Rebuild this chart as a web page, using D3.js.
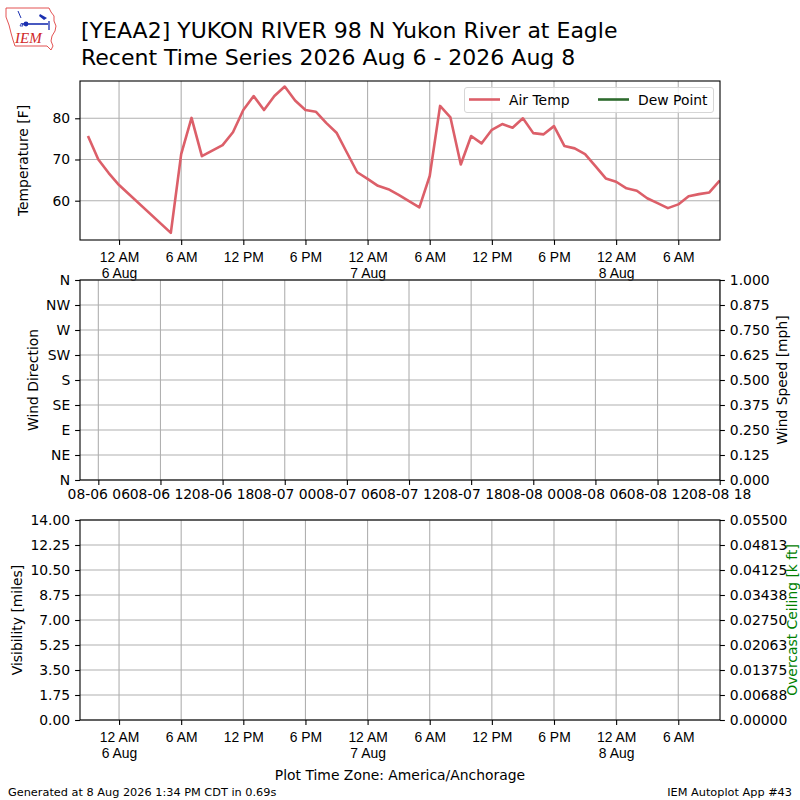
<!DOCTYPE html>
<html>
<head>
<meta charset="utf-8">
<script src="https://cdn.jsdelivr.net/npm/d3@7"></script>
<style>
  html, body { margin: 0; padding: 0; background: #fff; }
  svg { display: block; font-family: "DejaVu Sans", sans-serif; }
</style>
</head>
<body>
<svg id="chart" width="800" height="800"></svg>
<script>
// ---------------- DATA ----------------
const titleLines = ["[YEAA2] YUKON RIVER 98 N Yukon River at Eagle",
                    "Recent Time Series 2026 Aug 6 - 2026 Aug 8"];
// hours after 2026-08-06 00:00 local (America/Anchorage, UTC-8)
const obsHours = [-3, -2, -1, 0, 5, 6, 7, 8, 10, 11, 12, 13, 14, 15, 16, 17, 18, 19, 20, 21, 22, 23,
                  24, 25, 26, 27, 29, 30, 31, 32, 33, 34, 35, 36, 37, 38, 39, 40, 41, 42, 43, 44, 45,
                  46, 47, 48, 49, 50, 51, 52, 53, 54, 55, 56, 57, 58];
const airTemp = [75.7, 70.0, 66.7, 63.8, 52.2, 71.3, 80.1, 70.8, 73.5, 76.6, 82.0, 85.4, 82.0, 85.4,
                 87.7, 84.3, 82.0, 81.6, 78.9, 76.5, 71.7, 66.9, 65.3, 63.6, 62.8, 61.4, 58.4, 66.0,
                 83.0, 80.2, 68.8, 75.7, 73.9, 77.2, 78.6, 77.7, 80.0, 76.4, 76.1, 78.1, 73.3, 72.7,
                 71.3, 68.4, 65.4, 64.6, 63.0, 62.4, 60.6, 59.4, 58.2, 59.1, 61.1, 61.6, 62.0, 64.9];
const dewPoint = [];  // no dew point observations
const legendLabels = ["Air Temp", "Dew Point"];
const tempTicks = [60, 70, 80];
const dirTickLabels = ["N", "NE", "E", "SE", "S", "SW", "W", "NW", "N"];
const speedTickLabels = ["0.000", "0.125", "0.250", "0.375", "0.500", "0.625", "0.750", "0.875", "1.000"];
const visTickLabels = ["0.00", "1.75", "3.50", "5.25", "7.00", "8.75", "10.50", "12.25", "14.00"];
const ceilTickLabels = ["0.00000", "0.00688", "0.01375", "0.02063", "0.02750", "0.03438", "0.04125", "0.04813", "0.05500"];
const monthNames = ["Jan","Feb","Mar","Apr","May","Jun","Jul","Aug","Sep","Oct","Nov","Dec"];
const axisStartHour = -3.77, axisEndHour = 58.03;
const tzOffsetHours = 8;
const footerLeft = "Generated at 8 Aug 2026 1:34 PM CDT in 0.69s";
const footerRight = "IEM Autoplot App #43";
const tzLabel = "Plot Time Zone: America/Anchorage";

// ---------------- SETUP ----------------
const svg = d3.select("#chart");
const FS = 13.9;
const gridColor = "#b0b0b0";
const tempColor = "#dc5f69";
const dewColor = "#2e6b2e";
const base = Date.UTC(2026, 7, 6, 0, 0);
const hourToDate = h => new Date(base + h * 3600e3);

const L = 80, R = 720;
const panels = {
  temp: {top: 81, bottom: 240},
  wind: {top: 280, bottom: 480},
  vis:  {top: 520, bottom: 720}
};

// local-time scale (dates are "local clock" encoded as UTC)
const x = d3.scaleUtc().domain([hourToDate(axisStartHour), hourToDate(axisEndHour)]).range([L, R]);
// true UTC scale for the wind panel
const xUtc = d3.scaleUtc().domain([hourToDate(axisStartHour + tzOffsetHours), hourToDate(axisEndHour + tzOffsetHours)]).range([L, R]);

const localTicks = x.ticks(d3.utcHour.every(6));
function localLabel(d) {
  const h = d.getUTCHours();
  if (h === 0) return ["12 AM", d.getUTCDate() + " " + monthNames[d.getUTCMonth()]];
  if (h < 12) return [h + " AM"];
  if (h === 12) return ["12 PM"];
  return [(h - 12) + " PM"];
}

function styleAxis(g) {
  g.selectAll(".domain").remove();
  g.selectAll(".tick line").attr("stroke", "#000").attr("stroke-width", 1.1);
  g.selectAll(".tick text").attr("font-size", FS).attr("fill", "#000").attr("font-family", "DejaVu Sans");
}

function frame(p) {
  svg.append("rect").attr("x", L).attr("y", p.top).attr("width", R - L).attr("height", p.bottom - p.top)
    .attr("fill", "none").attr("stroke", "#000").attr("stroke-width", 1.1);
}

function vGrid(p, scale, ticks) {
  svg.append("g").selectAll("line").data(ticks).join("line")
    .attr("x1", d => scale(d)).attr("x2", d => scale(d))
    .attr("y1", p.top).attr("y2", p.bottom)
    .attr("stroke", gridColor).attr("stroke-width", 1.1);
}
function hGrid(p, scale, ticks) {
  svg.append("g").selectAll("line").data(ticks).join("line")
    .attr("x1", L).attr("x2", R)
    .attr("y1", d => scale(d)).attr("y2", d => scale(d))
    .attr("stroke", gridColor).attr("stroke-width", 1.1);
}

function localXAxis(p) {
  const g = svg.append("g").attr("transform", `translate(0,${p.bottom})`)
    .call(d3.axisBottom(x).tickValues(localTicks).tickSize(4.9).tickPadding(4.9).tickFormat(""));
  styleAxis(g);
  g.selectAll(".tick").each(function(d) {
    const lines = localLabel(d);
    const t = d3.select(this).append("text").attr("fill", "#000").attr("font-size", FS)
      .attr("text-anchor", "middle").attr("y", 12.6);
    lines.forEach((s, i) => t.append("tspan").attr("x", 0).attr("dy", i === 0 ? "0.71em" : "1.15em").text(s));
  });
}

function yLabel(text, xPos, p, color) {
  svg.append("text").attr("transform", `translate(${xPos},${(p.top + p.bottom) / 2}) rotate(-90)`)
    .attr("text-anchor", "middle").attr("font-size", FS).attr("fill", color || "#000").text(text);
}

// ---------------- TITLE & LOGO ----------------
titleLines.forEach((t, i) => {
  svg.append("text").attr("x", 81).attr("y", 38 + i * 27).attr("font-size", 22).attr("fill", "#000").text(t);
});
const logo = svg.append("g");
logo.append("path")
  .attr("d", "M6,8 L49,8 L51,12 L54,16 L54,21 L56,26 L55,31 L52,36 L51,41 L53,46 L51,50 L47,46 L15,46 L13,40 L11,33 L9,25 L6,17 Z")
  .attr("fill", "none").attr("stroke", "#e04040").attr("stroke-width", 0.9);
logo.append("line").attr("x1", 22).attr("y1", 24).attr("x2", 48).attr("y2", 24).attr("stroke", "#1a2fb0").attr("stroke-width", 1.6);
logo.append("circle").attr("cx", 26).attr("cy", 24).attr("r", 2.4).attr("fill", "#1a2fb0");
logo.append("line").attr("x1", 18).attr("y1", 11).attr("x2", 21).attr("y2", 18).attr("stroke", "#1a2fb0").attr("stroke-width", 1);
logo.append("path").attr("d", "M40,14 L47,18 L44,20 L39,16 Z").attr("fill", "#1a2fb0");
logo.append("line").attr("x1", 49).attr("y1", 21).attr("x2", 49).attr("y2", 30).attr("stroke", "#1a2fb0").attr("stroke-width", 1.3);
logo.append("path").attr("d", "M20,26 L23,26 L21.5,23 Z").attr("fill", "none").attr("stroke", "#1a2fb0").attr("stroke-width", 0.8);
logo.append("text").attr("x", 15).attr("y", 43).attr("font-family", "Liberation Serif, serif").attr("font-style", "italic")
  .attr("font-size", 15).attr("fill", "#d02828").text("IEM");

// ---------------- PANEL 1: TEMPERATURE ----------------
const pT = panels.temp;
const yT = d3.scaleLinear().domain([50.46, 89.05]).range([pT.bottom, pT.top]);
vGrid(pT, x, localTicks);
hGrid(pT, yT, tempTicks);
const tempData = obsHours.map((h, i) => ({t: hourToDate(h), v: airTemp[i]}));
svg.append("defs").append("clipPath").attr("id", "clipT").append("rect")
  .attr("x", L).attr("y", pT.top).attr("width", R - L).attr("height", pT.bottom - pT.top);
svg.append("path").datum(tempData).attr("clip-path", "url(#clipT)")
  .attr("d", d3.line().x(d => x(d.t)).y(d => yT(d.v)))
  .attr("fill", "none").attr("stroke", tempColor).attr("stroke-width", 2.6).attr("stroke-linejoin", "round");
svg.append("path").datum(dewPoint).attr("d", d3.line().x(d => x(d.t)).y(d => yT(d.v)))
  .attr("fill", "none").attr("stroke", dewColor).attr("stroke-width", 2.6);
frame(pT);
styleAxis(svg.append("g").attr("transform", `translate(${L},0)`)
  .call(d3.axisLeft(yT).tickValues(tempTicks).tickSize(4.9).tickPadding(4.9)));
localXAxis(pT);
yLabel("Temperature [F]", 28, pT);

// legend
const lg = svg.append("g");
lg.append("rect").attr("x", 464.5).attr("y", 87.5).attr("width", 249).attr("height", 25).attr("rx", 2.5)
  .attr("fill", "rgba(255,255,255,0.8)").attr("stroke", "#d6d6d6").attr("stroke-width", 1);
[[tempColor, 469, 509], [dewColor, 598, 638]].forEach((c, i) => {
  lg.append("line").attr("x1", c[1]).attr("x2", c[1] + 31).attr("y1", 99.5).attr("y2", 99.5)
    .attr("stroke", c[0]).attr("stroke-width", 2.6);
  lg.append("text").attr("x", c[2]).attr("y", 104.5).attr("font-size", FS).attr("fill", "#000").text(legendLabels[i]);
});

// ---------------- PANEL 2: WIND ----------------
const pW = panels.wind;
const yDir = d3.scaleLinear().domain([0, 360]).range([pW.bottom, pW.top]);
const ySpd = d3.scaleLinear().domain([0, 1]).range([pW.bottom, pW.top]);
const dirTicks = dirTickLabels.map((_, i) => i * 45);
const utcTicks = xUtc.ticks(d3.utcHour.every(6));
vGrid(pW, xUtc, utcTicks);
hGrid(pW, yDir, dirTicks);
frame(pW);
styleAxis(svg.append("g").attr("transform", `translate(${L},0)`)
  .call(d3.axisLeft(yDir).tickValues(dirTicks).tickSize(4.9).tickPadding(4.9).tickFormat((d, i) => dirTickLabels[i])));
const spdTicks = speedTickLabels.map(s => +s);
styleAxis(svg.append("g").attr("transform", `translate(${R},0)`)
  .call(d3.axisRight(ySpd).tickValues(spdTicks).tickSize(4.9).tickPadding(4.9).tickFormat((d, i) => speedTickLabels[i])));
styleAxis(svg.append("g").attr("transform", `translate(0,${pW.bottom})`)
  .call(d3.axisBottom(xUtc).tickValues(utcTicks).tickSize(4.9).tickPadding(4.5).tickFormat(d3.utcFormat("%m-%d %H"))));
yLabel("Wind Direction", 38, pW);
yLabel("Wind Speed [mph]", 787, pW);

// ---------------- PANEL 3: VISIBILITY / CEILING ----------------
const pV = panels.vis;
const yVis = d3.scaleLinear().domain([0, 14]).range([pV.bottom, pV.top]);
const yCeil = d3.scaleLinear().domain([0, 0.055]).range([pV.bottom, pV.top]);
const visTicks = visTickLabels.map(s => +s);
const ceilTicks = ceilTickLabels.map((_, i) => i * 0.055 / 8);
vGrid(pV, x, localTicks);
hGrid(pV, yVis, visTicks);
frame(pV);
styleAxis(svg.append("g").attr("transform", `translate(${L},0)`)
  .call(d3.axisLeft(yVis).tickValues(visTicks).tickSize(4.9).tickPadding(4.9).tickFormat((d, i) => visTickLabels[i])));
styleAxis(svg.append("g").attr("transform", `translate(${R},0)`)
  .call(d3.axisRight(yCeil).tickValues(ceilTicks).tickSize(4.9).tickPadding(4.9).tickFormat((d, i) => ceilTickLabels[i])));
localXAxis(pV);
yLabel("Visibility [miles]", 22, pV);
yLabel("Overcast Ceiling [k ft]", 797, pV, "#008000");

// ---------------- FOOTER ----------------
svg.append("text").attr("x", 400).attr("y", 780).attr("text-anchor", "middle").attr("font-size", FS).attr("fill", "#000").text(tzLabel);
svg.append("text").attr("x", 8).attr("y", 796).attr("font-size", 11.3).attr("fill", "#000").text(footerLeft);
svg.append("text").attr("x", 792).attr("y", 796).attr("text-anchor", "end").attr("font-size", 11.3).attr("fill", "#000").text(footerRight);
</script>
</body>
</html>
